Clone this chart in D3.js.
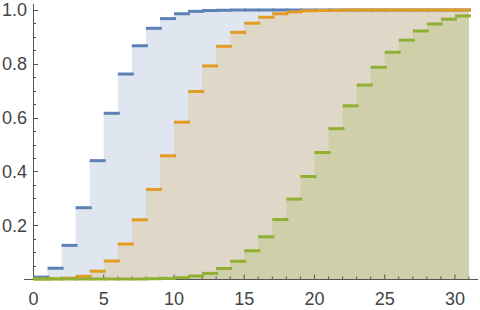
<!DOCTYPE html>
<html lang="en">
    <head>
        <meta charset="UTF-8" />
        <title>Step CDF chart</title>
        <script src="https://d3js.org/d3.v7.min.js"></script>
        <style>
            body {
                margin: 0;
                background: #fff;
            }
            .tick-label {
                font-family: "Liberation Sans", Arial, sans-serif;
                font-size: 18px;
                fill: #444;
            }
        </style>
    </head>
    <body>
        <svg width="480" height="310"></svg>

        <script>
            // values, one per integer k = 0..30
            const blueValues = [
                0.007, 0.040, 0.125, 0.265, 0.440, 0.616, 0.762, 0.867, 0.932, 0.968,
                0.986, 0.995, 0.998, 0.999, 1.0, 1.0, 1.0, 1.0, 1.0, 1.0,
                1.0, 1.0, 1.0, 1.0, 1.0, 1.0, 1.0, 1.0, 1.0, 1.0, 1.0
            ];
            const orangeValues = [
                0.000, 0.001, 0.003, 0.010, 0.029, 0.067, 0.130, 0.220, 0.333, 0.458,
                0.583, 0.697, 0.792, 0.865, 0.917, 0.951, 0.973, 0.986, 0.993, 0.997,
                0.998, 0.999, 1.0, 1.0, 1.0, 1.0, 1.0, 1.0, 1.0, 1.0, 1.0
            ];
            const greenValues = [
                0.000, 0.000, 0.000, 0.000, 0.000, 0.000, 0.000, 0.000, 0.001, 0.002,
                0.005, 0.011, 0.021, 0.039, 0.066, 0.105, 0.157, 0.221, 0.297, 0.381,
                0.470, 0.559, 0.644, 0.721, 0.787, 0.843, 0.888, 0.922, 0.948, 0.966, 0.978
            ];
            const seriesColors = ["#5e81b5", "#e19c24", "#8fb032"];
            const xTicks = [0, 5, 10, 15, 20, 25, 30];
            const yTicks = [0.2, 0.4, 0.6, 0.8, 1.0];

            const series = [blueValues, orangeValues, greenValues];

            const svg = d3.select("svg");
            const x = d3.scaleLinear().domain([0, 31]).range([33.5, 469]);
            const y = d3.scaleLinear().domain([0, 1]).range([279, 10]);

            // shaded areas under each step curve
            const area = d3
                .area()
                .x((d) => x(d[0]))
                .y0(y(0))
                .y1((d) => y(d[1]))
                .curve(d3.curveStepAfter);

            const fills = svg.append("g");
            series.forEach((vals, s) => {
                const pts = vals.map((v, i) => [i, v]);
                pts.push([vals.length, vals[vals.length - 1]]);
                fills
                    .append("path")
                    .attr("d", area(pts))
                    .attr("fill", seriesColors[s])
                    .attr("fill-opacity", 0.2);
            });

            // axes
            const axes = svg
                .append("g")
                .attr("stroke", "#555")
                .attr("stroke-width", 1);

            axes.append("line")
                .attr("x1", x(-0.67))
                .attr("x2", 478)
                .attr("y1", y(0) + 0.5)
                .attr("y2", y(0) + 0.5);
            axes.append("line")
                .attr("x1", x(0))
                .attr("x2", x(0))
                .attr("y1", 4)
                .attr("y2", y(0));

            // x ticks: major every 5, minor every 1
            axes.selectAll(".xt")
                .data(d3.range(0, 32))
                .enter()
                .append("line")
                .attr("x1", (d) => x(d))
                .attr("x2", (d) => x(d))
                .attr("y1", y(0))
                .attr("y2", (d) => y(0) - (d % 5 === 0 ? 4.5 : 2.5));

            // y ticks: major every 0.2, minor every 0.05
            axes.selectAll(".yt")
                .data(d3.range(1, 21))
                .enter()
                .append("line")
                .attr("y1", (d) => Math.round(y(d * 0.05)) + 0.5)
                .attr("y2", (d) => Math.round(y(d * 0.05)) + 0.5)
                .attr("x1", x(0))
                .attr("x2", (d) => x(0) + (d % 4 === 0 ? 4.5 : 2.5));

            // step segments
            const lines = svg.append("g");
            series.forEach((vals, s) => {
                lines
                    .append("g")
                    .selectAll("line")
                    .data(vals)
                    .enter()
                    .append("line")
                    .attr("x1", (d, i) => x(i))
                    .attr("x2", (d, i) => x(i + 1) + 2)
                    .attr("y1", (d) => y(d))
                    .attr("y2", (d) => y(d))
                    .attr("stroke", seriesColors[s])
                    .attr("stroke-width", 3);
            });

            // tick labels
            svg.append("g")
                .selectAll("text")
                .data(xTicks)
                .enter()
                .append("text")
                .attr("class", "tick-label")
                .attr("x", (d) => x(d))
                .attr("y", 305)
                .attr("text-anchor", "middle")
                .text((d) => d);

            svg.append("g")
                .selectAll("text")
                .data(yTicks)
                .enter()
                .append("text")
                .attr("class", "tick-label")
                .attr("x", 27)
                .attr("y", (d) => y(d))
                .attr("dy", "0.36em")
                .attr("text-anchor", "end")
                .text((d) => d3.format(".1f")(d));
        </script>
    </body>
</html>
